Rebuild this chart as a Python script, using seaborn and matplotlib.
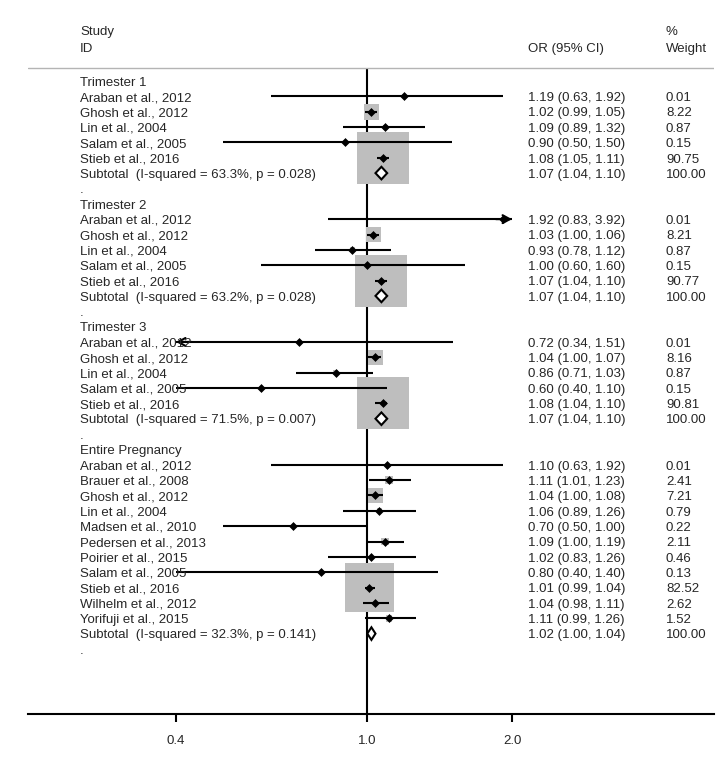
import numpy as np
import pandas as pd
import matplotlib
matplotlib.use("Agg")
import matplotlib.pyplot as plt
import matplotlib.transforms as mtrans
from matplotlib.patches import Polygon
import seaborn as sns

# ---------------- data ----------------
groups = ["Trimester 1", "Trimester 2", "Trimester 3", "Entire Pregnancy"]

t1_study = ["Araban et al., 2012", "Ghosh et al., 2012", "Lin et al., 2004",
            "Salam et al., 2005", "Stieb et al., 2016"]
t1_or = [1.19, 1.02, 1.09, 0.90, 1.08]
t1_lo = [0.63, 0.99, 0.89, 0.50, 1.05]
t1_hi = [1.92, 1.05, 1.32, 1.50, 1.11]
t1_w = [0.01, 8.22, 0.87, 0.15, 90.75]

t2_study = ["Araban et al., 2012", "Ghosh et al., 2012", "Lin et al., 2004",
            "Salam et al., 2005", "Stieb et al., 2016"]
t2_or = [1.92, 1.03, 0.93, 1.00, 1.07]
t2_lo = [0.83, 1.00, 0.78, 0.60, 1.04]
t2_hi = [3.92, 1.06, 1.12, 1.60, 1.10]
t2_w = [0.01, 8.21, 0.87, 0.15, 90.77]

t3_study = ["Araban et al., 2012", "Ghosh et al., 2012", "Lin et al., 2004",
            "Salam et al., 2005", "Stieb et al., 2016"]
t3_or = [0.72, 1.04, 0.86, 0.60, 1.08]
t3_lo = [0.34, 1.00, 0.71, 0.40, 1.04]
t3_hi = [1.51, 1.07, 1.03, 1.10, 1.10]
t3_w = [0.01, 8.16, 0.87, 0.15, 90.81]

ep_study = ["Araban et al., 2012", "Brauer et al., 2008", "Ghosh et al., 2012",
            "Lin et al., 2004", "Madsen et al., 2010", "Pedersen et al., 2013",
            "Poirier et al., 2015", "Salam et al., 2005", "Stieb et al., 2016",
            "Wilhelm et al., 2012", "Yorifuji et al., 2015"]
ep_or = [1.10, 1.11, 1.04, 1.06, 0.70, 1.09, 1.02, 0.80, 1.01, 1.04, 1.11]
ep_lo = [0.63, 1.01, 1.00, 0.89, 0.50, 1.00, 0.83, 0.40, 0.99, 0.98, 0.99]
ep_hi = [1.92, 1.23, 1.08, 1.26, 1.00, 1.19, 1.26, 1.40, 1.04, 1.11, 1.26]
ep_w = [0.01, 2.41, 7.21, 0.79, 0.22, 2.11, 0.46, 0.13, 82.52, 2.62, 1.52]

sub_or = [1.07, 1.07, 1.07, 1.02]
sub_lo = [1.04, 1.04, 1.04, 1.00]
sub_hi = [1.10, 1.10, 1.10, 1.04]
sub_i2 = ["63.3%", "63.2%", "71.5%", "32.3%"]
sub_p = ["0.028", "0.028", "0.007", "0.141"]

tick_vals = [0.4, 1.0, 2.0]
tick_labels = ["0.4", "1.0", "2.0"]

# ---------------- build rows ----------------
study_sets = [
    (t1_study, t1_or, t1_lo, t1_hi, t1_w),
    (t2_study, t2_or, t2_lo, t2_hi, t2_w),
    (t3_study, t3_or, t3_lo, t3_hi, t3_w),
    (ep_study, ep_or, ep_lo, ep_hi, ep_w),
]
rows = []
r = 0
for gi, g in enumerate(groups):
    rows.append(dict(kind="head", label=g, y=r)); r += 1
    s, o, lo, hi, w = study_sets[gi]
    for i in range(len(s)):
        rows.append(dict(kind="study", label=s[i], y=r, est=o[i], lo=lo[i], hi=hi[i], w=w[i]))
        r += 1
    rows.append(dict(kind="sub", label=f"Subtotal  (I-squared = {sub_i2[gi]}, p = {sub_p[gi]})",
                     y=r, est=sub_or[gi], lo=sub_lo[gi], hi=sub_hi[gi], w=100.0))
    r += 1
    rows.append(dict(kind="dot", label=".", y=r)); r += 1
df = pd.DataFrame(rows)
studies = df[df.kind == "study"].copy()

# ---------------- figure ----------------
sns.set_theme(style="white")
plt.rcParams["font.family"] = ["Liberation Sans", "DejaVu Sans"]
FS = 9.5
plt.rcParams["font.size"] = FS

W, H = 726, 758
fig = plt.figure(figsize=(W / 100, H / 100), dpi=100)
left_px, right_px, bot_px = 28, 714, 714
ax = fig.add_axes([left_px / W, (H - bot_px) / H, (right_px - left_px) / W, bot_px / H])
ax.set_xscale("log")
# x pixel anchors: 0.4 -> 176 px, 2.0 -> 512 px
pxl = (512 - 176) / np.log(2.0 / 0.4)
ax.set_xlim(0.4 * np.exp((left_px - 176) / pxl), 0.4 * np.exp((right_px - 176) / pxl))
row0, rowh = 81.0, 15.35
ax.set_ylim((bot_px - row0) / rowh, (0 - row0) / rowh)

XMIN, XMAX = 0.4, 2.0
hdr_y = (68 - row0) / rowh

# reference line at 1
ax.vlines(1.0, hdr_y, (bot_px - row0) / rowh, color="black", lw=1.5, zorder=1)
# header separator
ax.axhline(hdr_y, color="#b4b4b4", lw=1.0, zorder=1)

# weight boxes (area proportional to weight)
sns.scatterplot(data=studies, x="est", y="y", size="w", sizes=(0, 1545), size_norm=(0, 100),
                marker="s", color="#bebebe", edgecolor="none", linewidth=0,
                legend=False, ax=ax, zorder=2)

# CI lines with arrows when clipped
aprops = dict(arrowstyle="->,head_length=0.55,head_width=0.3",
              lw=1.5, color="black", shrinkA=0, shrinkB=0)
for _, rw in studies.iterrows():
    lo_c = max(rw.lo, XMIN)
    hi_c = min(rw.hi, XMAX)
    ax.hlines(rw.y, lo_c, hi_c, color="black", lw=1.5, zorder=3)
    if rw.lo < XMIN:
        ax.annotate("", xy=(XMIN, rw.y), xytext=(XMIN * 1.08, rw.y), arrowprops=aprops, zorder=3)
    if rw.hi > XMAX:
        ax.annotate("", xy=(XMAX, rw.y), xytext=(XMAX / 1.08, rw.y), arrowprops=aprops, zorder=3)

# point estimates
sns.scatterplot(data=studies, x="est", y="y", marker="D", s=16, color="black",
                edgecolor="black", linewidth=0.5, legend=False, ax=ax, zorder=4)

# subtotal diamonds
hh = 6.3 / rowh
for _, rw in df[df.kind == "sub"].iterrows():
    poly = Polygon([(rw.lo, rw.y), (rw.est, rw.y - hh), (rw.hi, rw.y), (rw.est, rw.y + hh)],
                   closed=True, facecolor="white", edgecolor="black", lw=1.5, zorder=4)
    ax.add_patch(poly)

# texts
tr = mtrans.blended_transform_factory(ax.transAxes, ax.transData)
def fx(px):
    return (px - left_px) / (right_px - left_px)

X_LAB, X_OR, X_W = 80, 528, 666
base = 0.31
for _, rw in df.iterrows():
    ax.text(fx(X_LAB), rw.y + base, rw.label, transform=tr, ha="left", va="baseline", fontsize=FS)
    if rw.kind in ("study", "sub"):
        ax.text(fx(X_OR), rw.y + base, f"{rw.est:.2f} ({rw.lo:.2f}, {rw.hi:.2f})",
                transform=tr, ha="left", va="baseline", fontsize=FS)
        ax.text(fx(X_W), rw.y + base, f"{rw.w:.2f}", transform=tr, ha="left",
                va="baseline", fontsize=FS)

y_top = (30 - row0) / rowh
y_mid = (47 - row0) / rowh
ax.text(fx(X_LAB), y_top + base, "Study", transform=tr, ha="left", va="baseline", fontsize=FS)
ax.text(fx(X_LAB), y_mid + base, "ID", transform=tr, ha="left", va="baseline", fontsize=FS)
ax.text(fx(X_OR), y_mid + base, "OR (95% CI)", transform=tr, ha="left", va="baseline", fontsize=FS)
ax.text(fx(X_W), y_top + base, "%", transform=tr, ha="left", va="baseline", fontsize=FS)
ax.text(fx(X_W), y_mid + base, "Weight", transform=tr, ha="left", va="baseline", fontsize=FS)

# axes styling
for sp in ["top", "left", "right"]:
    ax.spines[sp].set_visible(False)
ax.spines["bottom"].set_linewidth(1.5)
ax.spines["bottom"].set_color("black")
ax.set_xticks(tick_vals)
ax.set_xticklabels(tick_labels)
ax.xaxis.set_minor_locator(matplotlib.ticker.NullLocator())
ax.tick_params(axis="x", bottom=True, direction="out", length=6, width=1.5,
               color="black", labelsize=FS, pad=9)
ax.set_yticks([])
ax.set_xlabel("")
ax.set_ylabel("")
ax.patch.set_alpha(0)

fig.savefig("out.png", dpi=100)
